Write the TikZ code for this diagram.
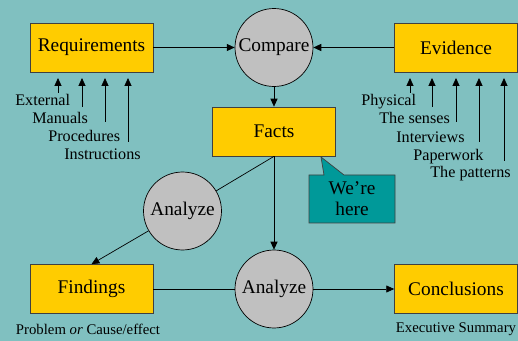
\documentclass[tikz,border=0pt]{standalone}
\usepackage{fontspec}
\setmainfont{Liberation Serif}
\usepackage{tikz}
\usetikzlibrary{positioning, arrows.meta, calc}
\definecolor{bgteal}{HTML}{80C0C0}
\definecolor{boxyellow}{HTML}{FFCC00}
\definecolor{circgray}{HTML}{C0C0C0}
\definecolor{bubbleteal}{HTML}{009999}
\tikzset{
    stagebox/.style={draw=black!75, fill=boxyellow, minimum width=2.46cm, minimum height=0.98cm, font=\rmfamily\fontsize{11}{13}\selectfont},
    actcirc/.style={circle, draw=black, fill=circgray, minimum size=1.56cm, inner sep=0pt, font=\rmfamily\fontsize{11}{13}\selectfont},
    flow/.style={-{Triangle[length=4.5pt, width=4pt]}},
    srclabel/.style={anchor=base west, inner sep=0pt, font=\rmfamily\fontsize{9.2}{11}\selectfont},
    notelabel/.style={inner sep=0pt, font=\rmfamily\fontsize{8.4}{10}\selectfont}
}

\begin{document}
\begin{tikzpicture}[x=0.02cm, y=-0.02cm]
        \useasboundingbox[fill=bgteal] (0,0) rectangle (518,341);

        % ----------------------------------------------------
        % Top row: Requirements -> Compare <- Evidence
        % ----------------------------------------------------
        \node[stagebox] (req) at (91.5, 47.5) {Requirements};
        \node[actcirc] (cmp) at (274, 47.5) {Compare};
        \node[stagebox] (evi) at (456, 47.5) {Evidence};
        \draw[flow] (req) -- (cmp);
        \draw[flow] (evi) -- (cmp);

        % Sources of requirements
        \node[srclabel] (ext) at (15, 106) {External};
        \node[srclabel] (man) at (32, 123.5) {Manuals};
        \node[srclabel] (proc) at (48, 142) {Procedures};
        \node[srclabel] (instr) at (64, 159.5) {Instructions};
        \foreach \x/\yy in {58/93, 82/107, 105/122, 128/142}
            \draw[flow] (\x, \yy) -- (\x, 78);

        % Sources of evidence
        \node[srclabel] (phys) at (361, 106) {Physical};
        \node[srclabel] (sens) at (379, 124) {The senses};
        \node[srclabel] (intv) at (396, 142.5) {Interviews};
        \node[srclabel] (paper) at (413, 160.5) {Paperwork};
        \node[srclabel] (patt) at (430, 178) {The patterns};
        \foreach \x/\yy in {410/93, 432/107, 456/122, 479/142, 504/161}
            \draw[flow] (\x, \yy) -- (\x, 78);

        % ----------------------------------------------------
        % Middle: Facts and the "We're here" callout
        % ----------------------------------------------------
        \node[stagebox] (facts) at (274, 131.5) {Facts};
        \draw[flow] (cmp) -- (facts);

        \draw[draw=black!75, fill=bubbleteal] (309,175) -- (324,175) -- (321,157) -- (344,175)
            -- (395,175) -- (395,223) -- (309,223) -- cycle;
        \node[align=center, inner sep=0pt, font=\rmfamily\fontsize{11}{12}\selectfont] (here) at (352, 199) {We’re\\here};

        % ----------------------------------------------------
        % Bottom row: Findings -- Analyze -> Conclusions
        % ----------------------------------------------------
        \node[actcirc] (an1) at (182.5, 211) {Analyze};
        \node[actcirc] (an2) at (274, 289) {Analyze};
        \node[stagebox] (find) at (91.5, 289) {Findings};
        \node[stagebox] (concl) at (456, 289) {Conclusions};

        \draw (facts.south) -- (an1);
        \draw[flow] (facts.south) -- (an2);
        \draw[flow] (an1) -- (find.north);
        \draw (find) -- (an2);
        \draw[flow] (an2) -- (concl);

        \node[notelabel] (findnote) at (88, 329) {Problem \textit{or} Cause/effect};
        \node[notelabel] (conclnote) at (456, 329) {Executive Summary};
    \end{tikzpicture}
\end{document}
